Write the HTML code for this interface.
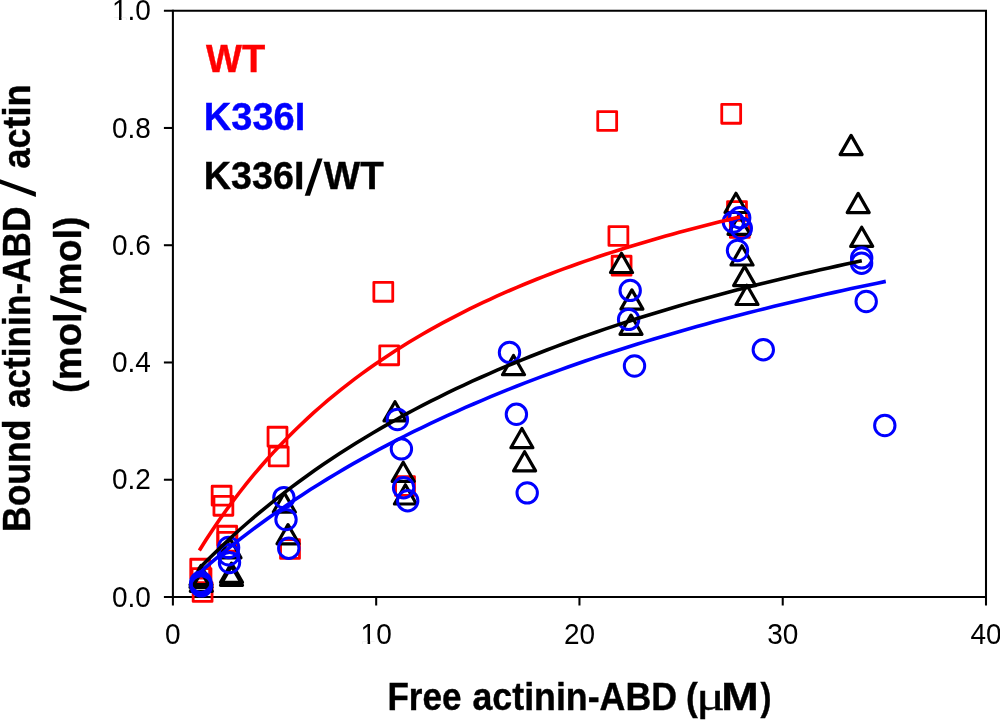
<!DOCTYPE html>
<html><head><meta charset="utf-8"><title>Binding curve</title>
<style>html,body{margin:0;padding:0;background:#fff;}body{width:1000px;height:720px;overflow:hidden;font-family:"Liberation Sans",sans-serif;}svg{display:block;will-change:transform}</style>
</head><body>
<svg width="1000" height="720" viewBox="0 0 1000 720">
<rect width="1000" height="720" fill="#fff"/>
<g stroke="#000" stroke-width="2.05" fill="none" stroke-linecap="butt">
<path d="M163.9,10.7 H986.0 V605.5"/>
<path d="M172.9,9.7 V605.5"/>
<path d="M163.9,597.0 H987.0"/>
<path d="M163.9,479.74 H172.9"/>
<path d="M163.9,362.48 H172.9"/>
<path d="M163.9,245.22 H172.9"/>
<path d="M163.9,127.96 H172.9"/>
<path d="M376.18,597.0 V605.5"/>
<path d="M579.45,597.0 V605.5"/>
<path d="M782.73,597.0 V605.5"/>
</g>
<g font-family="Liberation Sans, sans-serif" font-size="28" fill="#000">
<text transform="translate(150.9,606.60) scale(1,1.05)" text-anchor="end">0.0</text>
<text transform="translate(150.9,489.34) scale(1,1.05)" text-anchor="end">0.2</text>
<text transform="translate(150.9,372.08) scale(1,1.05)" text-anchor="end">0.4</text>
<text transform="translate(150.9,254.82) scale(1,1.05)" text-anchor="end">0.6</text>
<text transform="translate(150.9,137.56) scale(1,1.05)" text-anchor="end">0.8</text>
<text transform="translate(150.9,20.30) scale(1,1.05)" text-anchor="end">1.0</text>
<text transform="translate(172.90,644.3) scale(1,1.05)" text-anchor="middle">0</text>
<text transform="translate(376.18,644.3) scale(1,1.05)" text-anchor="middle">10</text>
<text transform="translate(579.45,644.3) scale(1,1.05)" text-anchor="middle">20</text>
<text transform="translate(782.73,644.3) scale(1,1.05)" text-anchor="middle">30</text>
<text transform="translate(986.00,644.3) scale(1,1.05)" text-anchor="middle">40</text>
</g>
<rect x="113.52" y="17.20" width="5.46" height="4.0" fill="#fff"/><rect x="121.50" y="17.20" width="5.18" height="4.0" fill="#fff"/>
<rect x="362.15" y="641.20" width="5.46" height="4.0" fill="#fff"/><rect x="370.13" y="641.20" width="5.18" height="4.0" fill="#fff"/>
<g fill="none" stroke="#f00" stroke-width="2.8" stroke-linejoin="round">
<rect x="193.15" y="582.55" width="18.9" height="18.9"/>
<rect x="192.05" y="568.55" width="18.9" height="18.9"/>
<rect x="190.75" y="559.25" width="18.9" height="18.9"/>
<rect x="217.75" y="526.25" width="18.9" height="18.9"/>
<rect x="217.95" y="532.35" width="18.9" height="18.9"/>
<rect x="213.95" y="496.35" width="18.9" height="18.9"/>
<rect x="212.15" y="486.25" width="18.9" height="18.9"/>
<rect x="269.25" y="447.05" width="18.9" height="18.9"/>
<rect x="268.05" y="427.25" width="18.9" height="18.9"/>
<rect x="280.55" y="539.55" width="18.9" height="18.9"/>
<rect x="379.75" y="345.85" width="18.9" height="18.9"/>
<rect x="373.85" y="282.35" width="18.9" height="18.9"/>
<rect x="395.55" y="476.55" width="18.9" height="18.9"/>
<rect x="597.75" y="111.55" width="18.9" height="18.9"/>
<rect x="608.95" y="226.55" width="18.9" height="18.9"/>
<rect x="612.15" y="256.25" width="18.9" height="18.9"/>
<rect x="721.75" y="104.35" width="18.9" height="18.9"/>
<rect x="727.55" y="201.55" width="18.9" height="18.9"/>
<rect x="730.35" y="218.55" width="18.9" height="18.9"/>
</g>
<g fill="none" stroke="#000" stroke-width="3.2" stroke-linejoin="round">
<path d="M201.00,565.50 L212.00,584.70 L190.00,584.70 Z"/>
<path d="M201.00,568.10 L212.00,587.30 L190.00,587.30 Z"/>
<path d="M201.30,572.10 L212.30,591.30 L190.30,591.30 Z"/>
<path d="M231.50,563.10 L242.50,582.30 L220.50,582.30 Z"/>
<path d="M231.50,566.10 L242.50,585.30 L220.50,585.30 Z"/>
<path d="M230.00,538.60 L241.00,557.80 L219.00,557.80 Z"/>
<path d="M284.30,492.90 L295.30,512.10 L273.30,512.10 Z"/>
<path d="M288.00,524.60 L299.00,543.80 L277.00,543.80 Z"/>
<path d="M395.00,401.70 L406.00,420.90 L384.00,420.90 Z"/>
<path d="M403.20,462.20 L414.20,481.40 L392.20,481.40 Z"/>
<path d="M405.40,484.80 L416.40,504.00 L394.40,504.00 Z"/>
<path d="M513.50,355.50 L524.50,374.70 L502.50,374.70 Z"/>
<path d="M521.90,428.50 L532.90,447.70 L510.90,447.70 Z"/>
<path d="M524.60,451.70 L535.60,470.90 L513.60,470.90 Z"/>
<path d="M621.50,253.30 L632.50,272.50 L610.50,272.50 Z"/>
<path d="M631.90,289.90 L642.90,309.10 L620.90,309.10 Z"/>
<path d="M631.00,315.10 L642.00,334.30 L620.00,334.30 Z"/>
<path d="M736.00,193.30 L747.00,212.50 L725.00,212.50 Z"/>
<path d="M739.00,215.10 L750.00,234.30 L728.00,234.30 Z"/>
<path d="M742.00,245.80 L753.00,265.00 L731.00,265.00 Z"/>
<path d="M744.60,266.40 L755.60,285.60 L733.60,285.60 Z"/>
<path d="M747.00,285.30 L758.00,304.50 L736.00,304.50 Z"/>
<path d="M851.10,135.40 L862.10,154.60 L840.10,154.60 Z"/>
<path d="M858.20,193.40 L869.20,212.60 L847.20,212.60 Z"/>
<path d="M861.70,227.20 L872.70,246.40 L850.70,246.40 Z"/>
</g>
<g fill="none" stroke="#00f" stroke-width="3.0">
<circle cx="200.80" cy="582.20" r="10.2"/>
<circle cx="201.00" cy="584.20" r="10.2"/>
<circle cx="201.20" cy="585.90" r="10.2"/>
<circle cx="228.60" cy="547.50" r="10.2"/>
<circle cx="228.60" cy="554.80" r="10.2"/>
<circle cx="229.50" cy="562.60" r="10.2"/>
<circle cx="283.90" cy="497.60" r="10.2"/>
<circle cx="286.00" cy="519.60" r="10.2"/>
<circle cx="288.75" cy="548.20" r="10.2"/>
<circle cx="397.40" cy="419.50" r="10.2"/>
<circle cx="401.40" cy="448.90" r="10.2"/>
<circle cx="403.60" cy="487.70" r="10.2"/>
<circle cx="407.70" cy="500.70" r="10.2"/>
<circle cx="509.50" cy="352.40" r="10.2"/>
<circle cx="516.40" cy="414.30" r="10.2"/>
<circle cx="527.20" cy="492.90" r="10.2"/>
<circle cx="630.20" cy="290.40" r="10.2"/>
<circle cx="628.60" cy="319.40" r="10.2"/>
<circle cx="634.50" cy="366.00" r="10.2"/>
<circle cx="739.70" cy="217.70" r="10.2"/>
<circle cx="733.40" cy="222.10" r="10.2"/>
<circle cx="741.30" cy="228.30" r="10.2"/>
<circle cx="737.50" cy="250.50" r="10.2"/>
<circle cx="763.30" cy="349.70" r="10.2"/>
<circle cx="861.70" cy="257.90" r="10.2"/>
<circle cx="861.60" cy="263.20" r="10.2"/>
<circle cx="866.20" cy="301.50" r="10.2"/>
<circle cx="884.80" cy="425.50" r="10.2"/>
</g>
<g fill="none" stroke="#000" stroke-width="3.2" stroke-linejoin="round">
</g>
<g fill="none" stroke-width="3.6" stroke-linecap="butt" stroke-linejoin="round">
<path stroke="#f00" d="M199.33,550.51 L206.08,539.78 L212.84,529.47 L219.60,519.55 L226.36,510.01 L233.12,500.82 L239.88,491.97 L246.64,483.42 L253.40,475.18 L260.16,467.22 L266.91,459.53 L273.67,452.09 L280.43,444.90 L287.19,437.94 L293.95,431.20 L300.71,424.67 L307.47,418.34 L314.23,412.20 L320.99,406.24 L327.74,400.46 L334.50,394.84 L341.26,389.39 L348.02,384.09 L354.78,378.93 L361.54,373.92 L368.30,369.04 L375.06,364.29 L381.82,359.66 L388.57,355.16 L395.33,350.77 L402.09,346.49 L408.85,342.32 L415.61,338.25 L422.37,334.28 L429.13,330.40 L435.89,326.62 L442.65,322.92 L449.40,319.32 L456.16,315.79 L462.92,312.34 L469.68,308.98 L476.44,305.68 L483.20,302.46 L489.96,299.31 L496.72,296.22 L503.48,293.21 L510.23,290.25 L516.99,287.36 L523.75,284.52 L530.51,281.75 L537.27,279.03 L544.03,276.36 L550.79,273.75 L557.55,271.18 L564.31,268.67 L571.06,266.21 L577.82,263.79 L584.58,261.42 L591.34,259.09 L598.10,256.80 L604.86,254.56 L611.62,252.36 L618.38,250.19 L625.14,248.07 L631.89,245.98 L638.65,243.93 L645.41,241.92 L652.17,239.94 L658.93,237.99 L665.69,236.08 L672.45,234.20 L679.21,232.35 L685.97,230.53 L692.72,228.74 L699.48,226.98 L706.24,225.25 L713.00,223.54 L719.76,221.87 L726.52,220.21 L733.28,218.59 L740.04,216.99"/>
<path stroke="#00f" d="M198.72,573.32 L207.30,565.86 L215.89,558.60 L224.48,551.52 L233.07,544.62 L241.66,537.89 L250.25,531.33 L258.83,524.94 L267.42,518.69 L276.01,512.60 L284.60,506.65 L293.19,500.84 L301.78,495.16 L310.36,489.61 L318.95,484.19 L327.54,478.89 L336.13,473.71 L344.72,468.64 L353.31,463.67 L361.89,458.82 L370.48,454.07 L379.07,449.41 L387.66,444.85 L396.25,440.39 L404.84,436.02 L413.43,431.73 L422.01,427.53 L430.60,423.41 L439.19,419.38 L447.78,415.42 L456.37,411.53 L464.96,407.72 L473.54,403.98 L482.13,400.31 L490.72,396.71 L499.31,393.17 L507.90,389.70 L516.49,386.29 L525.07,382.94 L533.66,379.65 L542.25,376.42 L550.84,373.24 L559.43,370.12 L568.02,367.05 L576.60,364.03 L585.19,361.06 L593.78,358.14 L602.37,355.27 L610.96,352.45 L619.55,349.67 L628.13,346.94 L636.72,344.25 L645.31,341.60 L653.90,338.99 L662.49,336.43 L671.08,333.90 L679.66,331.41 L688.25,328.97 L696.84,326.55 L705.43,324.18 L714.02,321.84 L722.61,319.53 L731.19,317.26 L739.78,315.02 L748.37,312.81 L756.96,310.63 L765.55,308.49 L774.14,306.37 L782.72,304.29 L791.31,302.23 L799.90,300.20 L808.49,298.20 L817.08,296.23 L825.67,294.29 L834.26,292.37 L842.84,290.47 L851.43,288.60 L860.02,286.76 L868.61,284.94 L877.20,283.14 L885.79,281.37"/>
<path stroke="#000" d="M198.72,569.02 L207.00,560.59 L215.29,552.42 L223.58,544.48 L231.87,536.77 L240.16,529.28 L248.45,521.99 L256.74,514.91 L265.02,508.02 L273.31,501.32 L281.60,494.79 L289.89,488.43 L298.18,482.24 L306.47,476.21 L314.76,470.33 L323.04,464.59 L331.33,458.99 L339.62,453.53 L347.91,448.20 L356.20,443.00 L364.49,437.92 L372.78,432.95 L381.06,428.10 L389.35,423.36 L397.64,418.73 L405.93,414.19 L414.22,409.76 L422.51,405.42 L430.79,401.18 L439.08,397.02 L447.37,392.95 L455.66,388.97 L463.95,385.07 L472.24,381.24 L480.53,377.50 L488.81,373.82 L497.10,370.22 L505.39,366.69 L513.68,363.23 L521.97,359.84 L530.26,356.51 L538.55,353.24 L546.83,350.03 L555.12,346.88 L563.41,343.79 L571.70,340.76 L579.99,337.78 L588.28,334.85 L596.57,331.97 L604.85,329.15 L613.14,326.37 L621.43,323.64 L629.72,320.96 L638.01,318.32 L646.30,315.73 L654.59,313.18 L662.87,310.67 L671.16,308.20 L679.45,305.78 L687.74,303.39 L696.03,301.04 L704.32,298.73 L712.61,296.45 L720.89,294.21 L729.18,292.00 L737.47,289.83 L745.76,287.69 L754.05,285.58 L762.34,283.50 L770.63,281.46 L778.91,279.44 L787.20,277.46 L795.49,275.50 L803.78,273.57 L812.07,271.67 L820.36,269.80 L828.64,267.95 L836.93,266.13 L845.22,264.33 L853.51,262.56 L861.80,260.82"/>
</g>
<g font-family="Liberation Sans, sans-serif" font-weight="bold" font-size="39.5">
<text transform="translate(206.00,72.40) scale(0.9637,1.0)" fill="#f00" stroke="#f00" stroke-width="0.4" >WT</text>
<text transform="translate(203.84,130.20) scale(0.9636,1.0)" fill="#00f" stroke="#00f" stroke-width="0.4" >K336I</text>
<text transform="translate(203.86,189.40) scale(0.9556,1.0)" fill="#000" stroke="#000" stroke-width="0.4" >K336I</text>
<polygon points="317.4,158.5 322.6,158.5 310,195.8 304.7,195.8" fill="#000"/>
<text transform="translate(323.80,189.40) scale(0.9767,1.0)" fill="#000" stroke="#000" stroke-width="0.4" >WT</text>
<text transform="translate(387.45,710.20) scale(0.8867,1.0)" fill="#000" stroke="#000" stroke-width="0.4" >Free</text>
<text transform="translate(472.43,710.20) scale(0.9060,1.0)" fill="#000" stroke="#000" stroke-width="0.4" >actinin-ABD</text>
<text transform="translate(686.03,710.20) scale(0.8951,1.0)" fill="#000" stroke="#000" stroke-width="0.4" >(</text>
<text transform="translate(696.21,710.20) scale(1.2755,1.0)" fill="#000" stroke="#000" stroke-width="0.4" font-weight="normal" font-family="Liberation Serif, serif" font-size="42">μ</text>
<text transform="translate(721.35,710.20) scale(1.1392,1.0)" fill="#000" stroke="#000" stroke-width="0.4" >M</text>
<text transform="translate(760.40,710.20) scale(0.8318,1.0)" fill="#000" stroke="#000" stroke-width="0.4" >)</text>
<text transform="translate(30.40,531.98) rotate(-90) scale(0.8982,1.0)" fill="#000" stroke="#000" stroke-width="0.4" >Bound</text>
<text transform="translate(30.40,408.06) rotate(-90) scale(0.8917,1.0)" fill="#000" stroke="#000" stroke-width="0.4" >actinin-ABD</text>
<polygon points="-2,178.5 -2,183.1 35.9,196.9 35.9,191.9" fill="#000"/>
<text transform="translate(30.40,168.58) rotate(-90) scale(0.9121,1.0)" fill="#000" stroke="#000" stroke-width="0.4" >actin</text>
<text transform="translate(80.50,392.91) rotate(-90) scale(0.9669,1.0)" fill="#000" stroke="#000" stroke-width="0.4" >(mol</text>
<polygon points="50.3,295.1 50.3,300.1 86.4,312.7 86.4,307.8" fill="#000"/>
<text transform="translate(80.50,295.41) rotate(-90) scale(0.9452,1.0)" fill="#000" stroke="#000" stroke-width="0.4" >mol)</text>
</g>
</svg>
</body></html>
